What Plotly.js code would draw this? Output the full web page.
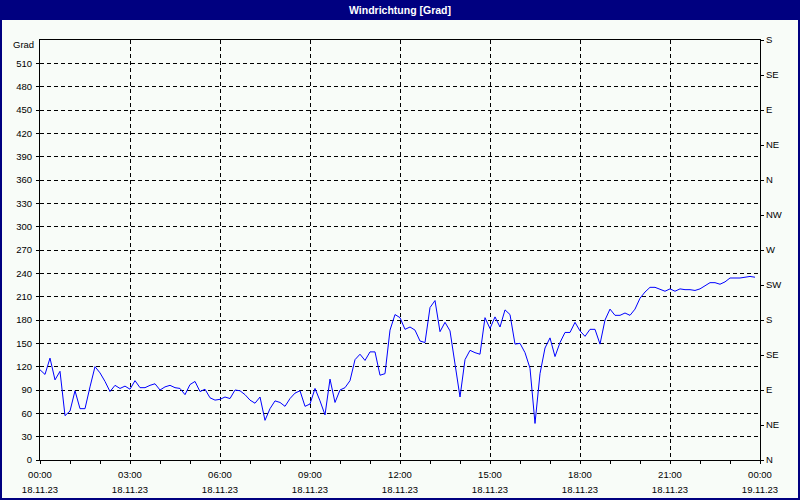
<!DOCTYPE html>
<html>
<head>
<meta charset="utf-8">
<script src="https://cdn.plot.ly/plotly-3.0.1.min.js"></script>
<style>html,body{margin:0;padding:0;background:#F8FCF8;}#chart{width:800px;height:500px;}</style>
</head>
<body>
<div id="chart"></div>
<script>
// Wind direction in degrees, one value every 10 minutes from 18.11.23 00:00 to 23:50
const windDir = [
  116,110,131,103,114,57,63,89,66,66,94,120,
  112,101,88,96,92,95,91,102,93,93,96,98,
  90,94,96,93,92,84,97,101,88,91,80,77,
  78,81,79,90,89,84,77,73,81,51,66,76,
  74,69,79,86,89,69,72,92,76,58,104,74,
  90,93,102,129,136,128,139,139,109,111,167,187,
  183,168,171,167,153,151,196,205,165,177,166,122,
  81,129,141,138,136,183,169,184,171,193,187,149,
  150,138,118,47,111,144,157,133,151,164,164,177,
  166,159,168,168,149,180,194,186,186,189,186,194,
  208,216,222,222,220,217,220,217,220,219,219,218,
  220,224,228,228,226,229,234,234,234,235,236,235
];
const startDay = "2023-11-18";
const endTime = "2023-11-19 00:00";
const stepMinutes = 10;
const leftTicks = [0,30,60,90,120,150,180,210,240,270,300,330,360,390,420,450,480,510];
const compassVals = [0,45,90,135,180,225,270,315,360,405,450,495,540];
const compassText = ["N","NE","E","SE","S","SW","W","NW","N","NE","E","SE","S"];
const titleText = "Windrichtung [Grad]";
const unitLabel = "Grad";

function pad(n){return (n<10?"0":"")+n;}
const times = windDir.map((_, i) => {
  const m = i*stepMinutes;
  return startDay + " " + pad(Math.floor(m/60)) + ":" + pad(m%60);
});
const xRange = [startDay + " 00:00", endTime];

const FONT = "Liberation Sans, Arial, sans-serif";
const tickFont = {family: FONT, size: 9.5, color: "#000"};
const W = 720, H = 420;

const traces = [
  {x: times, y: windDir, type: "scatter", mode: "lines", line: {color: "#0000FF", width: 1}, hoverinfo: "skip"},
  {x: times, y: windDir, type: "scatter", mode: "lines", xaxis: "x2", yaxis: "y", opacity: 0, hoverinfo: "skip"},
  {x: times, y: windDir, type: "scatter", mode: "lines", xaxis: "x", yaxis: "y2", opacity: 0, hoverinfo: "skip"}
];

const layout = {
  width: 800, height: 500,
  margin: {l: 40, r: 40, t: 40, b: 40, pad: 0},
  paper_bgcolor: "#F8FCF8", plot_bgcolor: "#F8FCF8",
  showlegend: false,
  title: {text: "<b>" + titleText + "</b>", font: {family: FONT, size: 10.5, color: "#FFFFFF"},
          x: 0.5, xanchor: "center", xref: "paper", y: 1 - 10/500, yref: "container", yanchor: "middle"},
  xaxis: {
    type: "date", range: xRange, tick0: xRange[0], dtick: 3*3600000, tickformat: "%H:%M",
    ticks: "outside", ticklen: 3, tickcolor: "#000", tickwidth: 1,
    showline: true, linecolor: "#000", linewidth: 1, mirror: true,
    showgrid: true, gridcolor: "#000", gridwidth: 1, griddash: "4px,3px",
    zeroline: false, tickfont: tickFont, ticklabelstandoff: 3,
    minor: {dtick: 3600000, tick0: xRange[0], ticks: "outside", ticklen: 3, tickcolor: "#000", showgrid: false},
    fixedrange: true
  },
  xaxis2: {
    type: "date", range: xRange, tick0: xRange[0], dtick: 3*3600000, tickformat: "%d.%m.%y",
    overlaying: "x", anchor: "y", side: "bottom",
    ticks: "", showline: false, showgrid: false, zeroline: false,
    tickfont: tickFont, ticklabelstandoff: 22, fixedrange: true
  },
  yaxis: {
    range: [0, 540], tickvals: leftTicks, ticktext: leftTicks.map(String),
    ticks: "outside", ticklen: 3, tickcolor: "#000",
    showline: true, linecolor: "#000", linewidth: 1, mirror: true,
    showgrid: true, gridcolor: "#000", gridwidth: 1, griddash: "4px,3px",
    zeroline: false, tickfont: tickFont, ticklabelstandoff: 2, fixedrange: true
  },
  yaxis2: {
    range: [0, 540], overlaying: "y", side: "right", anchor: "x",
    tickvals: compassVals, ticktext: compassText,
    ticks: "outside", ticklen: 3, tickcolor: "#000",
    showline: true, linecolor: "#000", linewidth: 1,
    showgrid: false, zeroline: false, tickfont: tickFont, fixedrange: true
  },
  annotations: [
    {text: unitLabel, xref: "paper", x: 0, xanchor: "right", xshift: -4,
     yref: "paper", y: 1, yanchor: "middle", yshift: -4, showarrow: false, font: tickFont}
  ],
  shapes: [
    {type: "rect", xref: "paper", yref: "paper", x0: -40/W, x1: 1 + 40/W, y0: 1 + 20/H, y1: 1 + 40/H,
     fillcolor: "#000080", line: {width: 0}, layer: "above"},
    {type: "rect", xref: "paper", yref: "paper", x0: (1-40)/W, x1: (799-40)/W, y0: (460-499)/H, y1: (460-1)/H,
     fillcolor: "rgba(0,0,0,0)", line: {color: "#000080", width: 2}, layer: "above"}
  ]
};

Plotly.newPlot("chart", traces, layout, {displayModeBar: false, staticPlot: true});
</script>
</body>
</html>
